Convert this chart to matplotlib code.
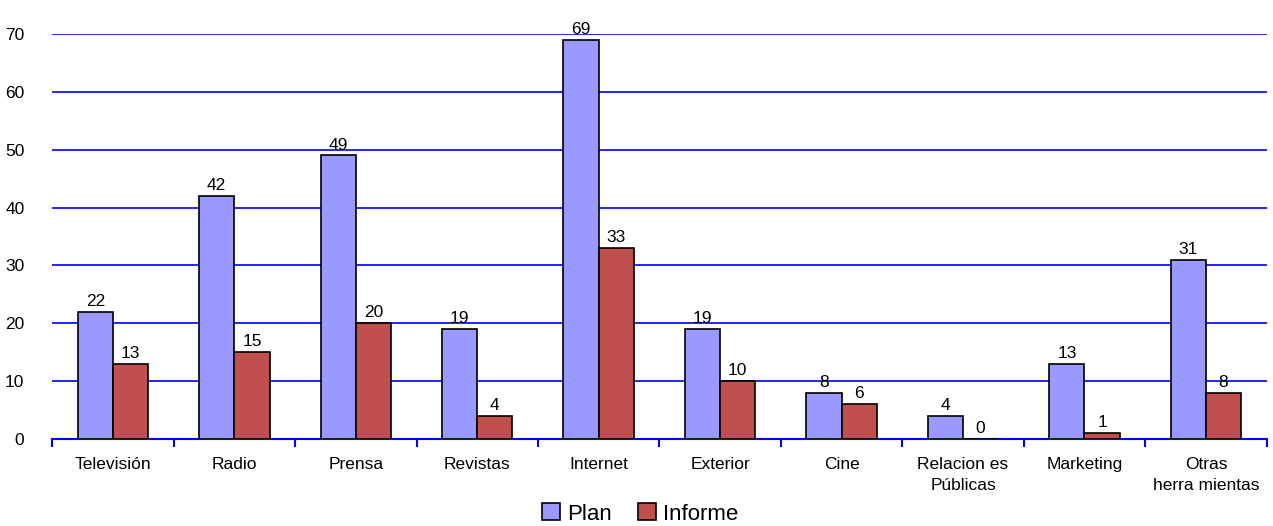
import numpy as np
import matplotlib.pyplot as plt

categories = ['Televisión', 'Radio', 'Prensa', 'Revistas', 'Internet', 'Exterior',
              'Cine', 'Relacion es\nPúblicas', 'Marketing', 'Otras\nherra mientas']
plan = [22, 42, 49, 19, 69, 19, 8, 4, 13, 31]
informe = [13, 15, 20, 4, 33, 10, 6, 0, 1, 8]

plt.rcParams['font.family'] = ['Liberation Sans', 'DejaVu Sans']

fig = plt.figure(figsize=(12.73, 5.26), dpi=100)
ax = fig.add_axes([0.041, 0.1654, 0.954, 0.77])

x = np.arange(len(categories))
w = 0.29
b1 = ax.bar(x - w/2, plan, w, color='#9999FF', edgecolor='black', linewidth=1.2, label='Plan', zorder=3)
b2 = ax.bar(x + w/2, informe, w, color='#C0504D', edgecolor='black', linewidth=1.2, label='Informe', zorder=3)

for bars, vals in ((b1, plan), (b2, informe)):
    for r, v in zip(bars, vals):
        ax.text(r.get_x() + r.get_width()/2, v + 0.5, str(v), ha='center', va='bottom', fontsize=12.5)

ax.set_xlim(-0.5, len(categories) - 0.5)
ax.set_ylim(0, 70)
ax.set_yticks(range(0, 71, 10))
for y in range(10, 71, 10):
    ax.axhline(y, color='#0000FF', linewidth=1.2, zorder=1)

for s in ['top', 'right', 'left']:
    ax.spines[s].set_visible(False)
ax.spines['bottom'].set_color('#0000FF')
ax.spines['bottom'].set_linewidth(1.5)

ax.set_xticks(np.arange(len(categories) + 1) - 0.5)
ax.set_xticklabels([])
ax.tick_params(axis='x', which='major', color='#0000FF', length=6, width=1.5)
ax.set_xticks(x, minor=True)
ax.set_xticklabels(categories, minor=True, fontsize=12.5, linespacing=1.5)
ax.tick_params(axis='x', which='minor', length=0, pad=13)
ax.tick_params(axis='y', length=0, labelsize=12.5, pad=20)

ax.legend(loc='center', bbox_to_anchor=(0.484, -0.185), ncol=2, frameon=False,
          fontsize=16, handlelength=0.8, handleheight=0.8, handletextpad=0.3, columnspacing=1.2,
          borderpad=0)

fig.savefig('out.png', dpi=100)
